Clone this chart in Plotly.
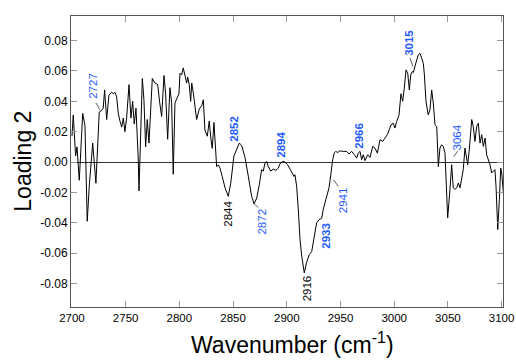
import plotly.graph_objects as go

wavenumber = [
    2700.0, 2701.2, 2703.4, 2704.7, 2706.8, 2710.0, 2712.1, 2714.2, 2716.1, 2719.3,
    2722.3, 2725.4, 2727.7, 2729.1, 2730.4, 2732.3, 2734.4, 2737.0, 2738.5, 2740.0,
    2741.6, 2743.1, 2744.7, 2746.3, 2747.8, 2749.3, 2750.9, 2753.1, 2754.9, 2756.5,
    2758.0, 2759.6, 2761.7, 2762.4, 2765.5, 2767.0, 2768.6, 2770.1, 2771.7, 2774.8,
    2777.3, 2779.8, 2781.7, 2783.5, 2785.7, 2787.2, 2789.1, 2791.2, 2792.8, 2794.3,
    2795.9, 2798.0, 2799.6, 2800.6, 2802.1, 2803.6, 2805.2, 2806.8, 2807.7, 2809.2,
    2810.5, 2811.5, 2812.9, 2816.1, 2818.5, 2820.8, 2822.3, 2823.8, 2826.0, 2827.8,
    2829.4, 2830.6, 2832.2, 2833.8, 2834.7, 2836.2, 2837.8, 2839.9, 2842.5, 2845.5,
    2847.8, 2850.8, 2853.4, 2855.8, 2858.0, 2861.1, 2864.2, 2867.3, 2869.5, 2872.0,
    2874.4, 2876.6, 2878.1, 2879.7, 2881.3, 2882.8, 2885.0, 2887.4, 2889.9, 2892.1,
    2893.7, 2896.2, 2898.3, 2900.8, 2903.0, 2904.6, 2906.7, 2907.6, 2909.2, 2910.7,
    2912.3, 2913.9, 2916.3, 2918.5, 2920.9, 2923.2, 2924.7, 2927.8, 2930.0, 2932.5,
    2934.0, 2937.1, 2939.3, 2941.2, 2942.7, 2944.2, 2945.5, 2947.4, 2949.5, 2952.6,
    2955.8, 2957.9, 2960.4, 2962.9, 2965.1, 2966.6, 2968.2, 2969.7, 2971.2, 2972.8,
    2975.3, 2977.5, 2980.0, 2982.1, 2984.3, 2986.8, 2989.3, 2991.4, 2993.6, 2995.4,
    2997.0, 2999.2, 3000.7, 3002.3, 3004.5, 3006.3, 3007.9, 3009.4, 3011.0, 3012.6,
    3014.1, 3015.4, 3016.9, 3017.8, 3019.4, 3021.0, 3022.4, 3024.0, 3025.6, 3027.1,
    3028.0, 3029.6, 3031.7, 3033.3, 3034.9, 3036.4, 3038.0, 3039.6, 3041.1, 3042.6,
    3044.2, 3045.7, 3047.3, 3049.8, 3051.9, 3053.5, 3055.0, 3056.6, 3058.2, 3059.7,
    3061.3, 3062.8, 3064.3, 3065.9, 3067.5, 3068.4, 3069.9, 3072.2, 3073.6, 3075.2,
    3076.8, 3078.3, 3079.9, 3081.5, 3083.0, 3084.6, 3086.1, 3087.6, 3089.2, 3090.8,
    3092.3, 3093.8, 3094.8, 3096.4, 3097.9, 3099.2, 3100.1, 3101.6,
]

loading2 = [
    0.017, 0.031, 0.004, 0.010, -0.012, 0.032, 0.024, -0.039, -0.016, 0.0125,
    -0.014, 0.033, 0.034, 0.0355, 0.0475, 0.028, 0.044, 0.046, 0.045, 0.046,
    0.043, 0.032, 0.027, 0.023, 0.029, 0.020, 0.029, 0.051, 0.029, 0.040,
    0.025, 0.0355, 0.002, -0.019, 0.055, 0.041, 0.010, 0.028, 0.0125, 0.055,
    0.052, 0.051, 0.039, 0.030, 0.057, 0.045, 0.015, 0.049, 0.039, -0.008,
    0.039, 0.043, 0.045, 0.0585, 0.0574, 0.062, 0.056, 0.052, 0.056, 0.051,
    0.040, 0.052, 0.046, 0.028, 0.035, 0.037, 0.041, 0.021, 0.017, 0.027,
    0.015, 0.009, 0.026, 0.008, -0.003, -0.002, -0.004, -0.0095, -0.017, -0.0226,
    -0.014, 0.004, 0.009, 0.0125, 0.011, 0.003, -0.0095, -0.0226, -0.0276, -0.0237,
    -0.015, -0.005, -0.006, -0.0007, 0.0004, -0.003, -0.006, -0.0046, -0.0055, -0.004,
    -0.001, 0.0004, 0.0, -0.0018, -0.0046, -0.0072, -0.0095, -0.0084, -0.016, -0.031,
    -0.051, -0.062, -0.073, -0.066, -0.061, -0.059, -0.052, -0.040, -0.038, -0.037,
    -0.031, -0.0226, -0.017, -0.0072, 0.0015, 0.006, 0.007, 0.0063, 0.0074, 0.007,
    0.007, 0.0053, 0.007, 0.0048, 0.0026, 0.006, 0.007, 0.0015, 0.0048, 0.0009,
    0.0048, 0.003, 0.0103, 0.0092, 0.0059, 0.0147, 0.0136, 0.0158, 0.018, 0.0213,
    0.0245, 0.0256, 0.0224, 0.0267, 0.031, 0.045, 0.040, 0.0487, 0.0607, 0.0585,
    0.0475, 0.0574, 0.0596, 0.059, 0.064, 0.0673, 0.0706, 0.0717, 0.0684, 0.065,
    0.0585, 0.040, 0.031, 0.0344, 0.0475, 0.0388, 0.0245, 0.0234, -0.003, 0.0092,
    0.0114, 0.0103, 0.0059, -0.0368, -0.018, -0.0018, -0.017, -0.018, -0.017, -0.0138,
    -0.017, -0.0116, -0.005, 0.0092, 0.0015, -0.0018, 0.0081, 0.028, 0.0234, 0.0136,
    0.0234, 0.0256, 0.0125, 0.018, 0.0103, 0.0158, 0.0048, 0.0015, -0.0018, -0.0072,
    -0.006, -0.005, -0.016, -0.0445, -0.0248, -0.004, -0.0072, -0.020,
]

x_title = "Wavenumber (cm<sup>-1</sup>)"
y_title = "Loading 2"
x_ticks = [2700, 2750, 2800, 2850, 2900, 2950, 3000, 3050, 3100]
y_ticks = [-0.08, -0.06, -0.04, -0.02, 0.0, 0.02, 0.04, 0.06, 0.08]
y_ticktext = ["-0.08", "-0.06", "-0.04", "-0.02", "0.00", "0.02", "0.04", "0.06", "0.08"]

# Peak labels
label_text = ["2727", "2852", "2894", "2966", "3015", "3064",
              "2844", "2872", "2916", "2933", "2941"]
label_x = [2719.6, 2850.8, 2894.6, 2967.2, 3013.8, 3058.3,
           2845.3, 2876.9, 2918.8, 2936.5, 2952.0]
label_y = [0.041, 0.0127, 0.0022, 0.0081, 0.0693, 0.0068,
           -0.0248, -0.030, -0.074, -0.0393, -0.0162]
label_color = ["blue", "blue", "blue", "blue", "blue", "blue",
               "black", "blue", "black", "blue", "blue"]
label_bold = [False, True, True, True, True, False,
              False, False, False, True, False]
label_anchor = ["bottom", "bottom", "bottom", "bottom", "bottom", "bottom",
                "top", "top", "top", "top", "top"]

# leader lines (x0, y0, x1, y1)
leaders = [
    (2722.3, 0.039, 2726.0, 0.0344),
    (3014.7, 0.0686, 3017.3, 0.063),
    (3055.5, 0.0035, 3059.2, 0.0072),
    (2869.7, -0.0276, 2873.5, -0.0300),
    (2943.4, -0.0116, 2948.0, -0.0160),
]

BLUE = "#1f5bff"
FONT = "Liberation Sans, Arial, sans-serif"

fig = go.Figure()
fig.add_trace(go.Scatter(x=wavenumber, y=loading2, mode="lines",
                         line=dict(color="black", width=1), showlegend=False,
                         hoverinfo="skip"))

for t, x, y, c, b, a in zip(label_text, label_x, label_y, label_color,
                            label_bold, label_anchor):
    fig.add_annotation(x=x, y=y, xref="x", yref="y",
                       text=f"<b>{t}</b>" if b else t, showarrow=False,
                       textangle=-90, xanchor="center", yanchor=a,
                       font=dict(size=11.5, color=BLUE if c == "blue" else "black",
                                 family=FONT),
                       borderpad=0)

for x0, y0, x1, y1 in leaders:
    fig.add_shape(type="line", x0=x0, y0=y0, x1=x1, y1=y1, xref="x", yref="y",
                  line=dict(color="#333", width=0.8))

# axis titles as paper annotations
fig.add_annotation(x=0.512, y=-0.178, xref="paper", yref="paper", text=x_title,
                   showarrow=False, xanchor="center", yanchor="bottom",
                   font=dict(size=23, color="black", family=FONT), borderpad=0)
fig.add_annotation(x=-0.113, y=0.5, xref="paper", yref="paper", text=y_title,
                   showarrow=False, xanchor="center", yanchor="middle", textangle=-90,
                   font=dict(size=23, color="black", family=FONT))

axis_common = dict(showline=True, linecolor="#555", linewidth=1, mirror="ticks",
                   ticks="inside", ticklen=6, tickcolor="#999", tickwidth=1,
                   showgrid=False, automargin=False)

fig.update_xaxes(range=[2699.1, 3101.3], tickvals=x_ticks, zeroline=False,
                 tickfont=dict(size=11.5, color="black", family=FONT),
                 **axis_common)
fig.update_yaxes(range=[-0.0955, 0.0962], tickvals=y_ticks, ticktext=y_ticktext,
                 zeroline=True, zerolinecolor="#333", zerolinewidth=1,
                 tickfont=dict(size=12, color="black", family=FONT),
                 **axis_common)

fig.update_layout(width=516, height=360, margin=dict(l=71, r=13, t=16, b=53),
                  plot_bgcolor="white", paper_bgcolor="white")

fig.write_html("out.html")
